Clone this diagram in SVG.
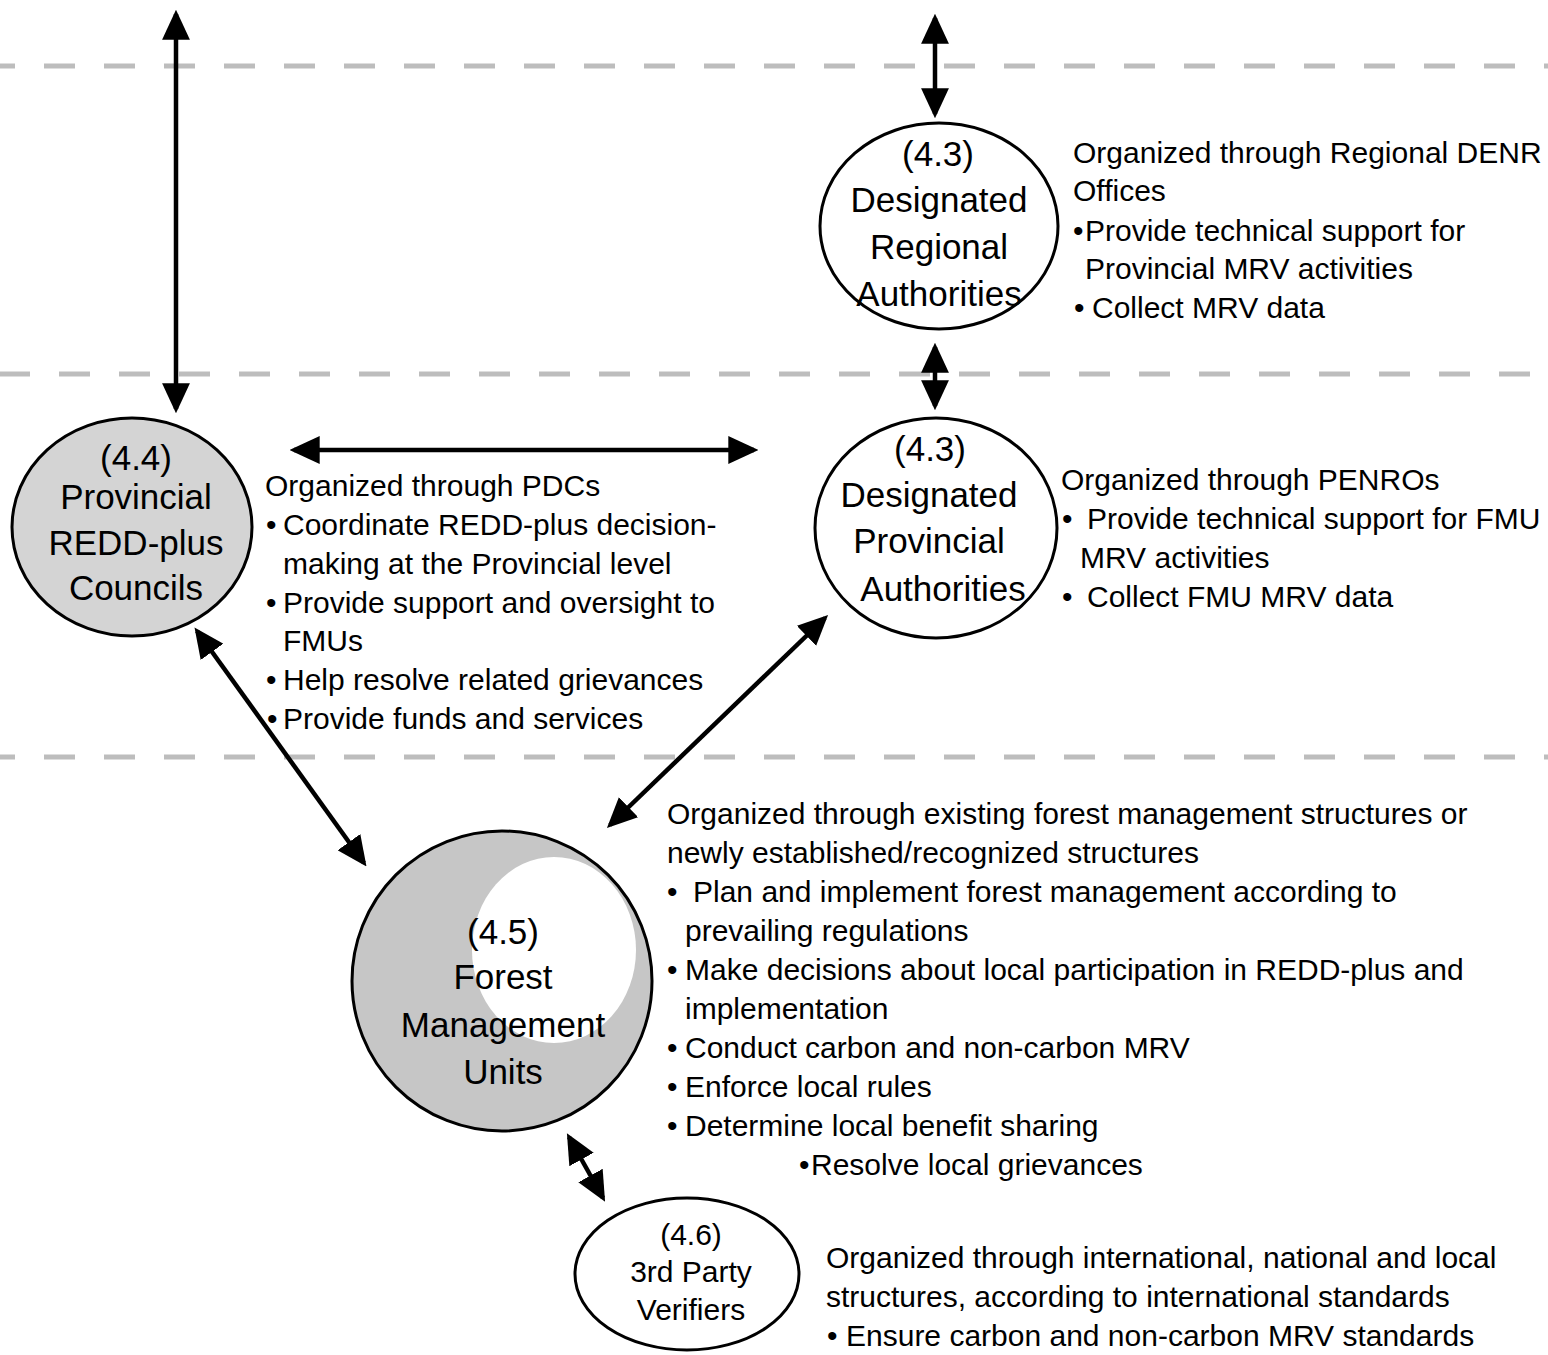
<svg xmlns="http://www.w3.org/2000/svg" width="1548" height="1355" viewBox="0 0 1548 1355">
<defs>
<marker id="ah" markerUnits="userSpaceOnUse" markerWidth="30" markerHeight="28" refX="24" refY="13" orient="auto-start-reverse" viewBox="0 0 28 26">
<path d="M0,0 L28,13 L0,26 Z" fill="#000"/>
</marker>
<style>
.dash{stroke:#bdbdbd;stroke-width:5;stroke-dasharray:31 29;fill:none}
.con{stroke:#000;stroke-width:4.5;fill:none;marker-start:url(#ah);marker-end:url(#ah)}
.node{stroke:#000;stroke-width:3}
.lbl{font-family:"Liberation Sans",Arial,sans-serif;font-size:35px;text-anchor:middle;fill:#000}
.sm{font-size:30px}
.txt{font-family:"Liberation Sans",Arial,sans-serif;font-size:30px;fill:#000}
</style>
</defs>
<rect width="1548" height="1355" fill="#fff"/>
<g id="levels">
<line class="dash" x1="0" y1="66" x2="1548" y2="66" stroke-dashoffset="16"/>
<line class="dash" x1="0" y1="374" x2="1548" y2="374" stroke-dashoffset="1"/>
<line class="dash" x1="0" y1="757" x2="1548" y2="757" stroke-dashoffset="16"/>
</g>
<g id="connectors">
<line class="con" x1="176" y1="14" x2="176" y2="409"/>
<line class="con" x1="935" y1="18" x2="935" y2="114"/>
<line class="con" x1="935" y1="347" x2="935" y2="406"/>
<line class="con" x1="294" y1="450" x2="754" y2="450"/>
<line class="con" x1="197" y1="631" x2="364" y2="863"/>
<line class="con" x1="825" y1="618" x2="610" y2="825"/>
<line class="con" x1="569" y1="1137" x2="603" y2="1198"/>
</g>
<g id="regional">
<ellipse class="node" cx="939" cy="226" rx="119" ry="103" fill="#fff"/>
<text class="lbl"><tspan x="938" y="166">(4.3)</tspan><tspan x="939" y="212">Designated</tspan><tspan x="939" y="259">Regional</tspan><tspan x="939" y="306">Authorities</tspan></text>
</g>
<g id="provincial-auth">
<ellipse class="node" cx="936" cy="528" rx="121" ry="110" fill="#fff"/>
<text class="lbl"><tspan x="930" y="461">(4.3)</tspan><tspan x="929" y="507">Designated</tspan><tspan x="929" y="553">Provincial</tspan><tspan x="943" y="601">Authorities</tspan></text>
</g>
<g id="councils">
<ellipse class="node" cx="132" cy="527" rx="120" ry="109" fill="#d4d4d4"/>
<text class="lbl"><tspan x="136" y="470">(4.4)</tspan><tspan x="136" y="509">Provincial</tspan><tspan x="136" y="555">REDD-plus</tspan><tspan x="136" y="600">Councils</tspan></text>
</g>
<g id="fmu">
<circle class="node" cx="502" cy="981" r="150" fill="#c6c6c6"/>
<ellipse cx="554" cy="950" rx="82" ry="93" fill="#fff"/>
<text class="lbl"><tspan x="503" y="944">(4.5)</tspan><tspan x="503" y="989">Forest</tspan><tspan x="503" y="1037">Management</tspan><tspan x="503" y="1084">Units</tspan></text>
</g>
<g id="verifiers">
<ellipse class="node" cx="687" cy="1274" rx="112" ry="76" fill="#fff"/>
<text class="lbl sm"><tspan x="691" y="1245">(4.6)</tspan><tspan x="691" y="1282">3rd Party</tspan><tspan x="691" y="1320">Verifiers</tspan></text>
</g>
<g id="desc-regional" class="txt">
<text x="1073" y="163">Organized through Regional DENR</text>
<text x="1073" y="201">Offices</text>
<text y="241"><tspan x="1073">•</tspan><tspan x="1085">Provide technical support for</tspan></text>
<text x="1085" y="279">Provincial MRV activities</text>
<text y="318"><tspan x="1074">•</tspan><tspan x="1092">Collect MRV data</tspan></text>
</g>
<g id="desc-provincial" class="txt">
<text x="1061" y="490">Organized through PENROs</text>
<text y="529"><tspan x="1062">•</tspan><tspan x="1087">Provide technical support for FMU</tspan></text>
<text x="1080" y="568">MRV activities</text>
<text y="607"><tspan x="1062">•</tspan><tspan x="1087">Collect FMU MRV data</tspan></text>
</g>
<g id="desc-councils" class="txt">
<text x="265" y="496">Organized through PDCs</text>
<text y="535"><tspan x="266">•</tspan><tspan x="283">Coordinate REDD-plus decision-</tspan></text>
<text x="283" y="574">making at the Provincial level</text>
<text y="613"><tspan x="266">•</tspan><tspan x="283">Provide support and oversight to</tspan></text>
<text x="283" y="651">FMUs</text>
<text y="690"><tspan x="266">•</tspan><tspan x="283">Help resolve related grievances</tspan></text>
<text y="729"><tspan x="267">•</tspan><tspan x="283">Provide funds and services</tspan></text>
</g>
<g id="desc-fmu" class="txt">
<text x="667" y="824">Organized through existing forest management structures or</text>
<text x="667" y="863">newly established/recognized structures</text>
<text y="902"><tspan x="667">•</tspan><tspan x="693">Plan and implement forest management according to</tspan></text>
<text x="685" y="941">prevailing regulations</text>
<text y="980"><tspan x="667">•</tspan><tspan x="685">Make decisions about local participation in REDD-plus and</tspan></text>
<text x="685" y="1019">implementation</text>
<text y="1058"><tspan x="667">•</tspan><tspan x="685">Conduct carbon and non-carbon MRV</tspan></text>
<text y="1097"><tspan x="667">•</tspan><tspan x="685">Enforce local rules</tspan></text>
<text y="1136"><tspan x="667">•</tspan><tspan x="685">Determine local benefit sharing</tspan></text>
<text y="1175"><tspan x="799">•</tspan><tspan x="811">Resolve local grievances</tspan></text>
</g>
<g id="desc-verifiers" class="txt">
<text x="826" y="1268">Organized through international, national and local</text>
<text x="826" y="1307">structures, according to international standards</text>
<text y="1346"><tspan x="827">•</tspan><tspan x="846">Ensure carbon and non-carbon MRV standards</tspan></text>
</g>
</svg>
